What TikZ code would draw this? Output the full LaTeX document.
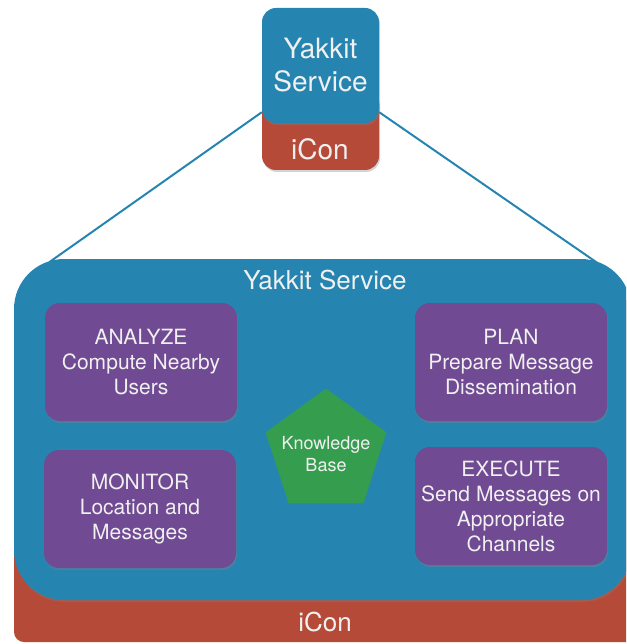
\documentclass[tikz,border=0pt]{standalone}
\usepackage{fontspec}
\setmainfont{TeX Gyre Heros}
\usetikzlibrary{shapes.geometric,shadows}
\pgfdeclarelayer{background}
\pgfsetlayers{background,main}
\definecolor{svcblue}{RGB}{38,133,176}
\definecolor{conred}{RGB}{181,74,56}
\definecolor{phasepurple}{RGB}{112,74,146}
\definecolor{kbgreen}{RGB}{52,158,78}
\definecolor{txtwhite}{RGB}{240,240,240}

\begin{document}
\begin{tikzpicture}[x=1pt, y=-1pt,
  box/.style={rectangle, inner sep=0pt, text=txtwhite, align=center},
  shade/.style={drop shadow={opacity=0.35, shadow xshift=1pt, shadow yshift=-2pt}},
  phase/.style={box, fill=phasepurple, rounded corners=15pt, minimum width=192pt,
    minimum height=118pt, shade, font=\fontsize{21}{25}\selectfont},
  link/.style={draw=svcblue, line width=2pt}]
\useasboundingbox (0,0) rectangle (626,644);
\clip (0,0) rectangle (626,644);
% small service on top
\node[box, fill=conred, rounded corners=14pt, minimum width=117pt, minimum height=80pt, shade] (topcon) at (320.5,130) {};
\node[box, fill=svcblue, rounded corners=14pt, minimum width=117pt, minimum height=115pt, shade,
  font=\fontsize{28}{33}\selectfont] (topsvc) at (320.5,65.5) {Yakkit\\Service};
\node[box, font=\fontsize{28}{33}\selectfont] (topicon) at (320,149) {iCon};
% zoomed service
\node[box, fill=conred, rounded corners=10pt, minimum width=626pt, minimum height=342pt] (con) at (327,471) {};
\node[box, fill=svcblue, rounded corners=50pt, minimum width=617pt, minimum height=341pt, shade] (svc) at (322.5,429.5) {};
\node[box, font=\fontsize{26}{30}\selectfont] (svctitle) at (325,280) {Yakkit Service};
\node[box, font=\fontsize{26}{30}\selectfont] (icon) at (325,622) {iCon};
\begin{pgfonlayer}{background}
\draw[link] ([yshift=11pt]topsvc.south west) -- ([xshift=36pt, yshift=-3pt]svc.north west);
\draw[link] ([yshift=11pt]topsvc.south east) -- ([xshift=-34pt, yshift=-4pt]svc.north east);
\end{pgfonlayer}
% mape-k loop
\node[phase] (analyze) at (141,362) {ANALYZE\\Compute Nearby\\Users};
\node[phase] (plan) at (511,362) {PLAN\\Prepare Message\\Dissemination};
\node[phase] (monitor) at (140,509) {MONITOR\\Location and\\Messages};
\node[phase] (execute) at (511,506) {EXECUTE\\Send Messages on\\Appropriate\\Channels};
\node[regular polygon, regular polygon sides=5, minimum size=127pt, inner sep=0pt, fill=kbgreen] (kb) at (326,452) {};
\node[box, font=\fontsize{18}{22}\selectfont] (kbtext) at (326,454) {Knowledge\\Base};
\end{tikzpicture}
\end{document}
